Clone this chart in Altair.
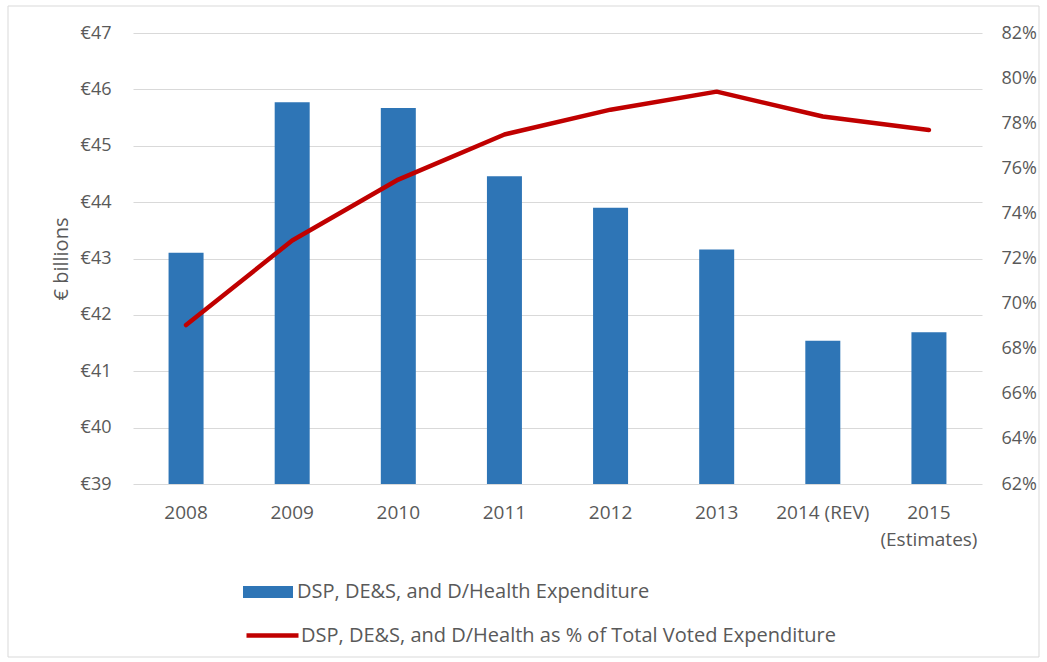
import altair as alt
import pandas as pd

years = ["2008", "2009", "2010", "2011", "2012", "2013", "2014 (REV)", "2015 (Estimates)"]
expenditure = [43.10, 45.77, 45.67, 44.46, 43.90, 43.16, 41.54, 41.69]
share_pct = [69.05, 72.8, 75.5, 77.5, 78.6, 79.4, 78.3, 77.7]
bar_label = "DSP, DE&S, and D/Health Expenditure"
line_label = "DSP, DE&S, and D/Health as % of Total Voted Expenditure"
left_ticks = [39, 40, 41, 42, 43, 44, 45, 46, 47]
right_ticks = [62, 64, 66, 68, 70, 72, 74, 76, 78, 80, 82]

df = pd.DataFrame({
    "year": years,
    "exp": expenditure,
    "pct": share_pct,
    "s1": [bar_label] * len(years),
    "s2": [line_label] * len(years),
})

FONT = "Open Sans"
GREY = "#595959"
W, H = 849, 451

x_enc = alt.X(
    "year:N", sort=years, title=None,
    scale=alt.Scale(paddingInner=0, paddingOuter=0),
    axis=alt.Axis(
        labelAngle=0, ticks=False, domain=False, labelPadding=19,
        labelFontSize=19, labelColor=GREY, labelFont=FONT, labelLineHeight=27,
        labelExpr="datum.label == '2015 (Estimates)' ? ['2015', '(Estimates)'] : datum.label",
    ),
)

bars = alt.Chart(df).mark_bar(size=35).encode(
    x=x_enc,
    y=alt.Y(
        "exp:Q", title="€ billions",
        scale=alt.Scale(domain=[39, 47], nice=False, zero=False),
        axis=alt.Axis(
            values=left_ticks, labelExpr="'€' + datum.value", orient="left",
            ticks=False, domain=False, grid=True, gridColor="#d9d9d9", gridWidth=1.2,
            labelPadding=22, labelFontSize=18, labelColor=GREY, labelFont=FONT,
            titleFontSize=20, titleColor=GREY, titleFont=FONT, titleFontWeight="normal",
            titlePadding=9,
        ),
    ),
    y2=alt.datum(39),
    color=alt.Color(
        "s1:N",
        scale=alt.Scale(domain=[bar_label], range=["#2e75b6"]),
        legend=alt.Legend(
            title=None, orient="none", legendX=110, legendY=534,
            symbolType="M-1,-0.24H1V0.24H-1Z", symbolSize=2500, symbolStrokeWidth=0,
            symbolOpacity=1, labelFontSize=20, labelColor=GREY, labelFont=FONT,
            labelOffset=4, padding=0, labelLimit=800,
        ),
    ),
)

line = alt.Chart(df).mark_line(strokeWidth=4.5, strokeCap="round", strokeJoin="round").encode(
    x=alt.X("year:N", sort=years),
    y=alt.Y(
        "pct:Q", title=None,
        scale=alt.Scale(domain=[62, 82], nice=False, zero=False),
        axis=alt.Axis(
            values=right_ticks, labelExpr="datum.value + '%'", orient="right",
            ticks=False, domain=False, grid=False,
            labelPadding=19, labelFontSize=18, labelColor=GREY, labelFont=FONT,
        ),
    ),
    stroke=alt.Stroke(
        "s2:N",
        scale=alt.Scale(domain=[line_label], range=["#c00000"]),
        legend=alt.Legend(
            title=None, orient="none", legendX=111, legendY=574,
            symbolType="stroke", symbolSize=2704, symbolStrokeWidth=4.5,
            labelFontSize=20, labelColor=GREY, labelFont=FONT,
            labelOffset=0, padding=0, labelLimit=800,
        ),
    ),
)

frame = alt.Chart(alt.Data(values=[{"k": 1}])).mark_rect(
    fillOpacity=0, stroke="#d9d9d9", strokeWidth=1
).encode(
    x=alt.value(-125), x2=alt.value(W + 57), y=alt.value(-27), y2=alt.value(H + 173)
)

chart = alt.layer(bars, line, frame).resolve_scale(
    y="independent", color="independent", stroke="independent"
).properties(
    width=W, height=H,
    autosize=alt.AutoSizeParams(type="none"),
    padding={"left": 133, "top": 33, "right": 65, "bottom": 178},
    background="white",
).configure_view(stroke=None)

chart.save("out.html", embed_options={"renderer": "svg", "actions": False})
